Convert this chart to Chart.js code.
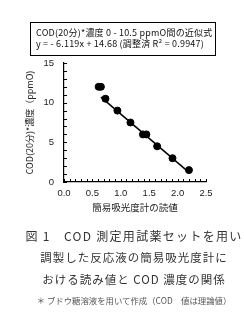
<!DOCTYPE html>
<html>
<head>
<meta charset="utf-8">
<script src="https://cdn.jsdelivr.net/npm/chart.js@4"></script>
<style>
  html, body { margin: 0; padding: 0; background: #fff; }
  body { width: 244px; height: 315px; position: relative; overflow: hidden; }
  #chart { position: absolute; left: 0; top: 0; }
  .box {
    position: absolute; left: 30px; top: 22px; width: 179px; height: 28px;
    border: 1.5px solid #000; font-family: "Noto Sans CJK JP", sans-serif;
    font-size: 9px; letter-spacing: 0.2px; line-height: 11px; color: #111;
    padding: 4px 0 0 5px; box-sizing: content-box; white-space: nowrap;
  }
  .cap {
    position: absolute; left: 0; width: 268px; text-align: center; white-space: nowrap;
    font-family: "Noto Sans CJK JP", sans-serif; color: #333;
  }
  .c1 { top: 227px; font-size: 12px; letter-spacing: 1.3px; }
  .c2 { top: 249px; font-size: 11.5px; letter-spacing: 1px; }
  .c3 { top: 271px; font-size: 11.5px; letter-spacing: 1px; }
  .c4 { top: 294px; font-size: 8.4px; color: #555; }
</style>
</head>
<body>
<canvas id="chart" width="244" height="315"></canvas>
<div class="box">COD(20分)*濃度 0 - 10.5 ppmO間の近似式<br>y = - 6.119x + 14.68 (調整済 R² = 0.9947)</div>
<div class="cap c1">図 1　COD 測定用試薬セットを用い</div>
<div class="cap c2">調製した反応液の簡易吸光度計に</div>
<div class="cap c3">おける読み値と COD 濃度の関係</div>
<div class="cap c4">＊ ブドウ糖溶液を用いて作成（COD　値は理論値）</div>
<script>
// readings of the simple absorbance meter and COD concentration
const meterReading = [0.61, 0.65, 0.73, 0.94, 1.17, 1.39, 1.45, 1.64, 1.91, 2.20];
const codValue = [12.0, 12.0, 10.5, 9.0, 7.5, 6.0, 6.0, 4.5, 3.0, 1.5];

// fitted line (0 - 10.5 ppmO range)
const fitSlope = -6.119;
const fitIntercept = 14.68;
const fitRange = [0.65, 2.2];

const xTicks = [0, 0.5, 1.0, 1.5, 2.0, 2.5];
const yTicks = [0, 5, 10, 15];

const points = meterReading.map((x, i) => ({ x, y: codValue[i] }));
const fitLine = fitRange.map(x => ({ x, y: fitSlope * x + fitIntercept }));

// small inward ticks, like the original axes
const innerTicks = {
  id: 'innerTicks',
  afterDraw(chart) {
    const { ctx, scales: { x, y } } = chart;
    ctx.save();
    ctx.strokeStyle = '#000';
    ctx.lineWidth = 1;
    ctx.beginPath();
    for (let v = 0; v <= 25; v++) {
      const px = Math.round(x.getPixelForValue(v / 10)) + 0.5;
      ctx.moveTo(px, y.bottom);
      ctx.lineTo(px, y.bottom - 3);
    }
    for (let v = 0; v <= 15; v++) {
      const py = Math.round(y.getPixelForValue(v)) + 0.5;
      ctx.moveTo(x.left, py);
      ctx.lineTo(x.left + 3, py);
    }
    ctx.stroke();
    ctx.restore();
  }
};

new Chart(document.getElementById('chart'), {
  type: 'scatter',
  data: {
    datasets: [
      {
        data: points,
        backgroundColor: '#000',
        borderColor: '#000',
        pointRadius: 3.5,
        pointHoverRadius: 3.5,
      },
      {
        type: 'line',
        data: fitLine,
        borderColor: '#000',
        borderWidth: 1.5,
        pointRadius: 0,
        fill: false,
      },
    ],
  },
  options: {
    responsive: false,
    animation: false,
    events: [],
    layout: { padding: { left: 24, right: 38, top: 63, bottom: 102 } },
    plugins: { legend: { display: false }, tooltip: { enabled: false } },
    scales: {
      x: {
        type: 'linear',
        min: 0,
        max: 2.5,
        afterBuildTicks: s => { s.ticks = xTicks.map(value => ({ value })); },
        afterFit: s => { s.height = 31; },
        grid: { display: false, drawTicks: false },
        border: { display: true, color: '#000', width: 1.2 },
        ticks: {
          color: '#222',
          padding: 6,
          font: { family: 'Liberation Sans', size: 9.5 },
          callback: v => v.toFixed(1),
        },
        title: {
          display: true,
          text: '簡易吸光度計の読値',
          color: '#222',
          padding: 0,
          font: { family: '"Noto Sans CJK JP"', size: 9.5 },
        },
      },
      y: {
        type: 'linear',
        min: 0,
        max: 15,
        afterBuildTicks: s => { s.ticks = yTicks.map(value => ({ value })); },
        afterFit: s => { s.width = 40; },
        grid: { display: false, drawTicks: false },
        border: { display: true, color: '#000', width: 1.2 },
        ticks: {
          color: '#222',
          padding: 10,
          font: { family: 'Liberation Sans', size: 9.5 },
        },
        title: {
          display: true,
          text: 'COD(20分)*濃度（ppmO)',
          color: '#222',
          padding: 0,
          font: { family: '"Noto Sans CJK JP"', size: 9 },
        },
      },
    },
  },
  plugins: [innerTicks],
});
</script>
</body>
</html>
